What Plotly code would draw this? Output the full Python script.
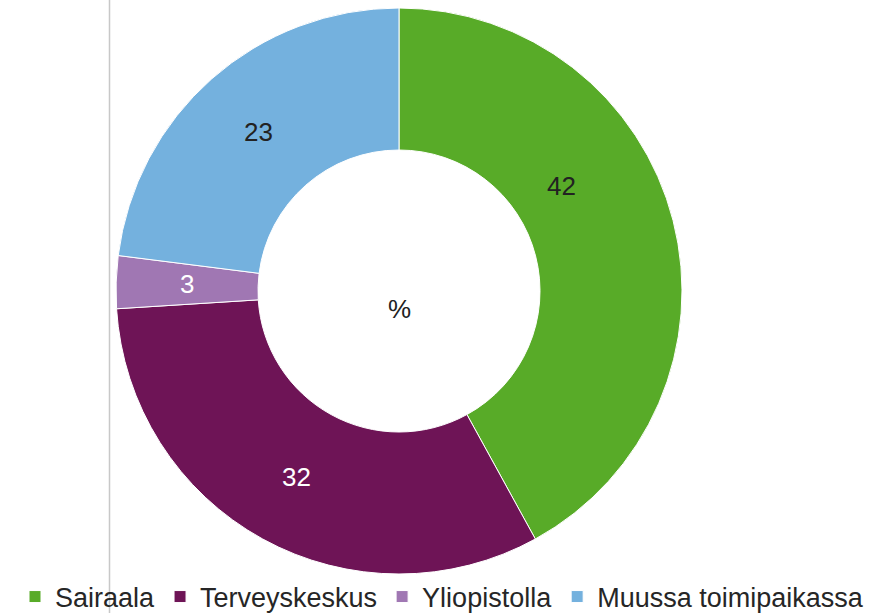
import math
import plotly.graph_objects as go

categories = ["Sairaala", "Terveyskeskus", "Yliopistolla", "Muussa toimipaikassa"]
values = [42, 32, 3, 23]
colors = ["#58ab28", "#6e1456", "#a077b3", "#74b1de"]
text_colors = ["#222222", "#ffffff", "#ffffff", "#222222"]
center_label = "%"

W, H = 884, 613
cx, cy, r_out, r_in = 399, 291, 283, 141
FONT = "Liberation Sans, Arial, sans-serif"

fig = go.Figure(go.Pie(
    labels=categories,
    values=values,
    hole=r_in / r_out,
    sort=False,
    direction="clockwise",
    rotation=0,
    marker=dict(colors=colors, line=dict(color="#ffffff", width=1)),
    textinfo="none",
    domain=dict(x=[(cx - r_out) / W, (cx + r_out) / W],
                y=[(H - cy - r_out) / H, (H - cy + r_out) / H]),
    showlegend=True,
    hoverinfo="label+value",
))

# data labels at the middle of each ring segment
total = sum(values)
cum = 0
r_mid = (r_out + r_in) / 2
for i, v in enumerate(values):
    ang = 2 * math.pi * (cum + v / 2) / total
    cum += v
    lx = cx + r_mid * math.sin(ang)
    ly = cy - r_mid * math.cos(ang)
    if i == 0:
        # original chart places this label closer to the hole
        lx, ly = 561, 186
    fig.add_annotation(
        text=str(v), x=lx / W, y=(H - ly) / H, xref="paper", yref="paper",
        xanchor="center", yanchor="middle",
        showarrow=False, font=dict(size=26, color=text_colors[i], family=FONT),
    )

fig.add_annotation(
    text=center_label, x=cx / W, y=(H - 309) / H, xref="paper", yref="paper",
    xanchor="center", yanchor="middle",
    showarrow=False, font=dict(size=26, color="#222222", family=FONT),
)

fig.add_shape(type="line", xref="paper", yref="paper",
              x0=109.5 / W, x1=109.5 / W, y0=0, y1=1,
              line=dict(color="#c8c8c8", width=1.5), layer="below")

fig.update_layout(
    width=W, height=H,
    margin=dict(l=0, r=0, t=0, b=0, autoexpand=False),
    paper_bgcolor="#ffffff",
    plot_bgcolor="#ffffff",
    font=dict(family=FONT, size=27, color="#262626"),
    legend=dict(orientation="h", x=0.5, xanchor="center", y=(H - 597) / H, yanchor="middle",
                font=dict(size=27), itemwidth=30, tracegroupgap=0,
                bgcolor="rgba(0,0,0,0)"),
)

fig.write_html("out.html", config={"displayModeBar": False},
               post_script="document.body.style.margin='0';document.body.style.overflow='hidden';")
